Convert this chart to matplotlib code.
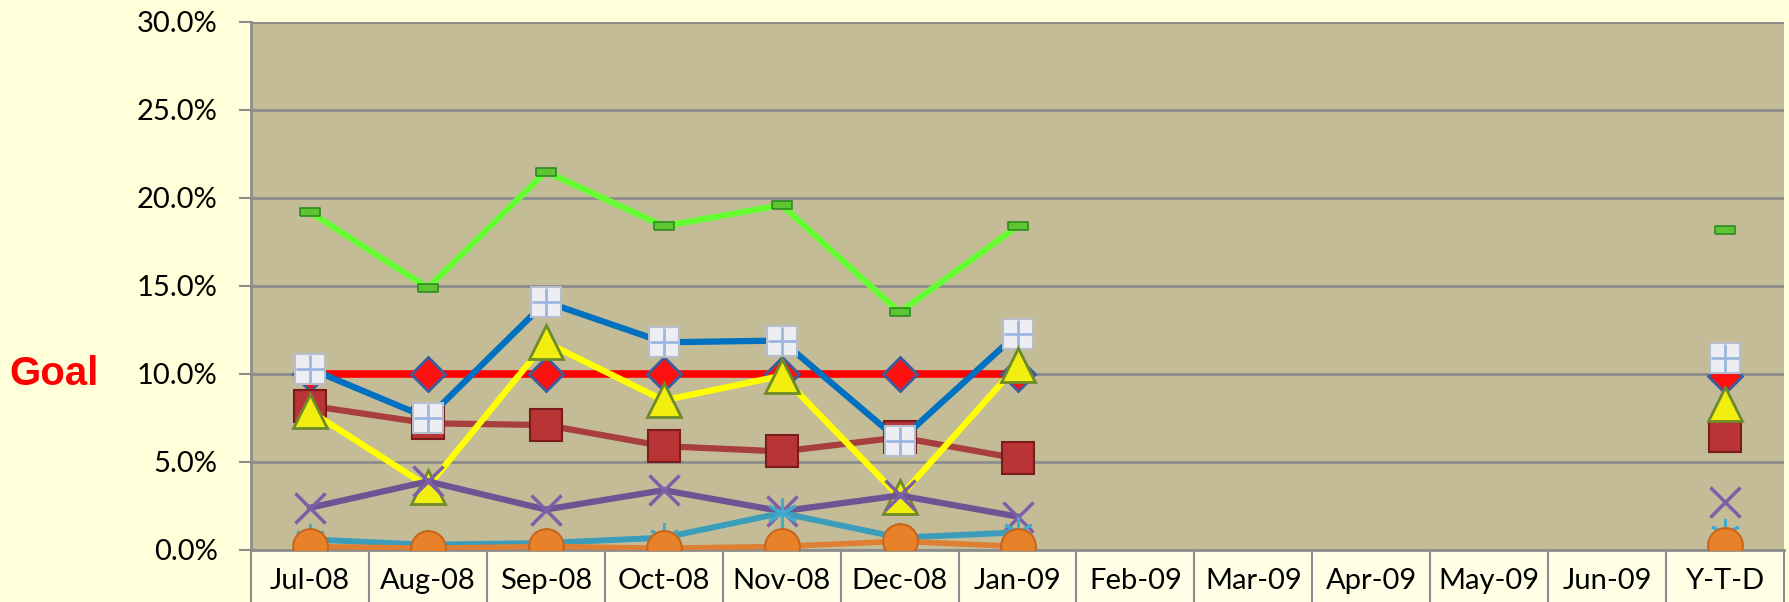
"""Monthly rate chart with goal line, Jul-08 through Y-T-D."""

import numpy as np
import matplotlib
matplotlib.use("Agg")
from matplotlib import pyplot as plt
from matplotlib.patches import Rectangle
from matplotlib.ticker import FuncFormatter, FixedLocator
from matplotlib.transforms import blended_transform_factory

nan = np.nan

categories = ["Jul-08", "Aug-08", "Sep-08", "Oct-08", "Nov-08", "Dec-08", "Jan-09",
              "Feb-09", "Mar-09", "Apr-09", "May-09", "Jun-09", "Y-T-D"]

goal = [0.100, 0.100, 0.100, 0.100, 0.100, 0.100, 0.100, nan, nan, nan, nan, nan, 0.099]
series_darkred = [0.082, 0.072, 0.071, 0.059, 0.056, 0.064, 0.052, nan, nan, nan, nan, nan, 0.065]
series_blue = [0.103, 0.075, 0.141, 0.118, 0.119, 0.062, 0.123, nan, nan, nan, nan, nan, 0.109]
series_yellow = [0.079, 0.036, 0.118, 0.085, 0.099, 0.030, 0.105, nan, nan, nan, nan, nan, 0.083]
series_purple = [0.024, 0.039, 0.023, 0.034, 0.022, 0.031, 0.019, nan, nan, nan, nan, nan, 0.027]
series_teal = [0.006, 0.003, 0.004, 0.007, 0.021, 0.007, 0.010, nan, nan, nan, nan, nan, 0.009]
series_orange = [0.002, 0.001, 0.002, 0.001, 0.002, 0.005, 0.002, nan, nan, nan, nan, nan, 0.003]
series_green = [0.192, 0.149, 0.215, 0.184, 0.196, 0.135, 0.184, nan, nan, nan, nan, nan, 0.182]

yticks = [0.0, 0.05, 0.10, 0.15, 0.20, 0.25, 0.30]

fig_bg = "#FFFFD9"
label_bg = "#FFFFE6"
plot_bg = "#C4BC96"
grid_gray = "#8C8C8C"

fig = plt.figure(figsize=(17.89, 6.02), dpi=100, facecolor=fig_bg)
ax = fig.add_axes([251 / 1789, 52 / 602, (1784 - 251) / 1789, (550 - 22) / 602])
ax.set_facecolor(plot_bg)

# cream band behind the category labels (kept under the axes)
fig.patches.append(Rectangle((251 / 1789, 0), (1784 - 251) / 1789, 52 / 602,
                             transform=fig.transFigure, facecolor=label_bg,
                             edgecolor="none", zorder=-1))

x = np.arange(len(categories))
bar_marker = [(-1, -0.42), (1, -0.42), (1, 0.42), (-1, 0.42), (-1, -0.42)]

ax.plot(x, goal, color="#FF0000", lw=5.5, marker="D", ms=17,
        mfc="#FF1010", mec="#3A5DA0", mew=2, zorder=3)
ax.plot(x, series_darkred, color="#A83E3E", lw=4.5, marker="s", ms=23,
        mfc="#B93535", mec="#7A1C1C", mew=1.5, zorder=4)
ax.plot(x, series_blue, color="#0070C0", lw=4.5, marker="s", ms=21,
        mfc="#ECEEF3", mec="#B7BDCA", mew=1.5, zorder=5)
ax.plot(x, series_blue, ls="none", marker="+", ms=20, mec="#9DB5DD", mew=2, zorder=5.1)
ax.plot(x, series_yellow, color="#FFFF00", lw=4.5, marker="^", ms=24,
        mfc="#F2EE10", mec="#6F8A2A", mew=2, zorder=6)
ax.plot(x, series_purple, color="#6E5494", lw=4.5, marker="x", ms=21,
        mec="#7D5FA8", mew=2.5, zorder=7)
ax.plot(x, series_teal, color="#3C9DBA", lw=4.3, marker=(6, 2, 0), ms=22,
        mec="#42ABCB", mew=2.2, zorder=8)
ax.plot(x, series_orange, color="#DE7F33", lw=4, marker="o", ms=25,
        mfc="#E8822A", mec="#C8651C", mew=1.5, zorder=9)
ax.plot(x, series_green, color="#66FF33", lw=4.5, marker=bar_marker, ms=15,
        mfc="#5CC531", mec="#2F8A22", mew=1.2, zorder=10)

ax.set_xlim(-0.5, len(categories) - 0.5)
ax.set_ylim(0, 0.30)

ax.yaxis.set_major_locator(FixedLocator(yticks))
ax.yaxis.set_major_formatter(FuncFormatter(lambda v, _: f"{v * 100:.1f}%"))
ax.grid(axis="y", color=grid_gray, lw=2)
ax.set_axisbelow(True)

# category separators as long outward ticks, labels on minor ticks
ax.xaxis.set_major_locator(FixedLocator(np.arange(-0.5, len(categories), 1.0)))
ax.xaxis.set_minor_locator(FixedLocator(x))
ax.set_xticklabels([], minor=False)
ax.set_xticklabels(categories, minor=True)
ax.tick_params(axis="x", which="major", direction="out", length=37.5,
               width=1.5, color=grid_gray)
ax.tick_params(axis="x", which="minor", length=0, pad=13,
               labelsize=21, labelfontfamily="Lato")
ax.tick_params(axis="y", direction="out", length=9, width=1.5, color=grid_gray,
               pad=15, labelsize=21, labelfontfamily="Lato")

for side in ("top", "right"):
    ax.spines[side].set_visible(False)
for side in ("left", "bottom"):
    ax.spines[side].set_color(grid_gray)
    ax.spines[side].set_linewidth(2)

ax.text(9 / 1789, 0.10, "Goal", transform=blended_transform_factory(fig.transFigure, ax.transData),
        color="#FF0000", fontsize=29, fontweight="bold", family="Liberation Sans",
        ha="left", va="center")

fig.savefig("out.png", dpi=100, facecolor=fig_bg)
